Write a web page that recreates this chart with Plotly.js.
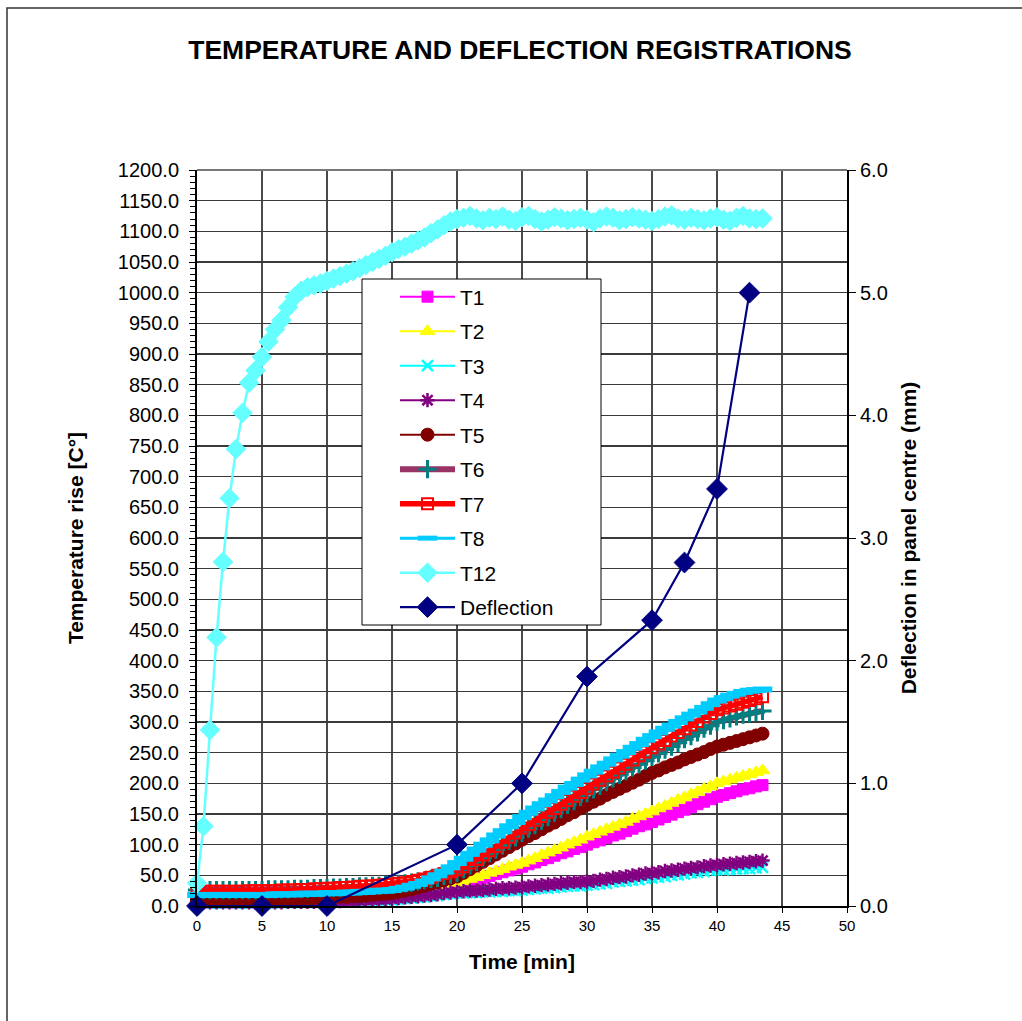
<!DOCTYPE html>
<html>
<head>
<meta charset="utf-8">
<script src="https://cdn.plot.ly/plotly-3.0.1.min.js"></script>
<style>html,body{margin:0;padding:0;background:#fff;}#chart{width:1022px;height:1021px;}</style>
</head>
<body>
<div id="chart"></div>
<script>
// time axis (min), one reading every 0.5 min
const time = [0,0.5,1,1.5,2,2.5,3,3.5,4,4.5,5,5.5,6,6.5,7,7.5,8,8.5,9,9.5,10,10.5,11,11.5,12,12.5,13,13.5,14,14.5,15,15.5,16,16.5,17,17.5,18,18.5,19,19.5,20,20.5,21,21.5,22,22.5,23,23.5,24,24.5,25,25.5,26,26.5,27,27.5,28,28.5,29,29.5,30,30.5,31,31.5,32,32.5,33,33.5,34,34.5,35,35.5,36,36.5,37,37.5,38,38.5,39,39.5,40,40.5,41,41.5,42,42.5,43,43.5];

const T1 = [6,6,6,6,6,6,6,6,6,6, 6,6,7,7,7,7,8,8,8,8, 9,9,10,10,11,11,12,12,13,13, 14,16,18,19,21,23,25,28,30,32, 34,37,40,43,46,49,52,55,58,61, 64,68,71,75,78,82,86,89,93,96, 100,104,107,111,115,118,122,126,130,133, 137,141,145,149,153,157,161,166,170,174, 178,181,184,187,190,192,195,197];
const T2 = [8,8,8,8,8,8,8,8,8,8, 8,8,8,8,9,9,9,9,10,10, 10,10,11,11,12,12,13,13,14,15, 16,17,19,21,23,25,28,30,33,35, 37,40,44,47,50,54,57,60,64,67, 70,74,78,83,87,91,95,100,104,108, 113,117,121,125,129,133,137,142,146,150, 154,159,163,168,173,177,182,186,191,195, 200,203,206,209,212,215,218,221];
const T3 = [5,5,5,5,5,5,5,5,5,5, 5,5,5,5,6,6,6,6,6,7, 7,7,7,8,8,8,9,9,9,10, 10,11,12,13,14,15,16,17,19,20, 21,21,22,22,23,23,24,24,25,25, 26,27,28,29,29,30,31,32,33,33, 34,35,36,37,39,40,41,42,43,45, 46,47,48,50,51,52,54,55,56,58, 59,59,60,60,61,61,62,63];
const T4 = [6,6,6,6,6,6,6,6,6,6, 6,6,6,6,7,7,7,7,7,8, 8,8,8,9,9,9,10,10,11,11, 12,13,14,15,16,17,18,19,21,22, 23,24,25,25,26,27,28,29,29,30, 31,32,33,34,35,36,37,38,39,39, 40,41,43,44,46,47,48,50,51,53, 54,55,57,58,59,61,62,63,65,66, 67,68,69,70,71,72,73,74];
const T5 = [10,10,10,10,10,10,10,10,10,10, 11,11,11,11,11,12,12,12,13,13, 14,14,15,15,16,16,17,18,19,20, 21,23,25,27,30,33,36,39,42,45, 48,54,60,66,72,78,84,90,96,102, 108,114,119,125,131,136,142,148,153,159, 165,170,175,181,186,191,196,201,206,212, 217,221,226,230,234,239,243,247,251,256, 260,263,266,269,272,275,278,281];
const T6 = [26,26,26,26,26,26,26,26,26,26, 26,27,27,27,27,28,28,28,29,29, 29,30,30,31,31,32,32,33,33,34, 35,36,37,38,40,42,44,46,49,51, 54,60,66,72,79,86,92,99,106,112, 119,126,132,139,145,152,158,165,171,178, 184,190,196,202,208,214,220,226,231,237, 243,249,255,260,266,272,277,283,289,294, 300,303,306,309,312,314,316,318];
const T7 = [24,24,24,24,24,24,24,24,25,25, 25,25,25,26,26,26,27,27,28,28, 29,29,30,30,31,32,32,33,34,35, 36,37,38,40,42,44,47,50,53,56, 59,64,70,76,83,90,97,104,112,119, 127,133,140,146,153,159,166,172,179,185, 192,199,205,212,218,225,231,238,245,251, 258,264,270,277,283,289,295,301,308,314, 320,323,326,329,332,335,338,341];
const T8 = [18,18,18,18,18,18,18,18,18,18, 18,18,19,19,19,19,20,20,20,20, 21,21,21,22,22,23,23,24,25,25, 26,28,30,33,36,40,45,50,56,63, 70,77,85,92,100,107,115,122,130,137, 145,152,159,166,172,179,186,193,199,206, 213,219,226,232,239,245,251,258,264,271, 277,283,289,294,300,306,312,317,323,329, 335,339,343,346,349,351,352,353];
const T12 = [37,130,287,438,561,665,745,804,853,873, 895,920,940,955,976,993,1003,1009,1012,1015, 1019,1023,1027,1031,1035,1040,1045,1050,1055,1060, 1066,1071,1075,1080,1085,1090,1097,1103,1110,1116, 1120,1122,1125,1121,1118,1122,1120,1124,1119,1117, 1123,1125,1120,1116,1119,1123,1121,1118,1120,1122, 1119,1115,1121,1124,1122,1118,1120,1123,1121,1119, 1117,1120,1124,1126,1121,1119,1122,1120,1118,1121, 1123,1119,1117,1122,1125,1121,1120,1121];

// deflection readings (right axis, mm)
const defTime = [0,5,10,20,25,30,35,37.5,40,42.5];
const deflection = [0,0,0,0.5,1.0,1.87,2.33,2.8,3.4,5.0];

const FONT = 'Arial, "Liberation Sans", sans-serif';
const legendKeys = ['legend','legend2','legend3','legend4','legend5','legend6','legend7','legend8','legend9','legend10'];

function tr(i, name, y, lineColor, lineWidth, sym, mSize, mColor, mLineW) {
  const open = sym.indexOf('open') >= 0;
  return {
    type: 'scatter', mode: 'lines+markers', name: name, legend: legendKeys[i], x: time, y: y, cliponaxis: false,
    line: {color: lineColor, width: lineWidth},
    marker: open ? {symbol: sym, size: mSize, color: mColor, line: {color: mColor, width: mLineW}}
                 : {symbol: sym, size: mSize, color: mColor, line: {color: mColor, width: 1}}
  };
}

const data = [
  tr(0, 'T1', T1, '#FF00FF', 2, 'square', 11, '#FF00FF'),
  tr(1, 'T2', T2, '#FFFF00', 2, 'triangle-up', 13, '#FFFF00'),
  tr(2, 'T3', T3, '#00FFFF', 2, 'x-thin-open', 11, '#00FFFF', 2.5),
  tr(3, 'T4', T4, '#800080', 2, 'asterisk-open', 12, '#800080', 2.5),
  tr(4, 'T5', T5, '#800000', 2, 'circle', 13, '#800000'),
  tr(5, 'T6', T6, '#993366', 6, 'cross-thin-open', 13, '#008080', 3),
  tr(6, 'T7', T7, '#FF0000', 5.5, 'square-open', 11, '#FF0000', 2),
  tr(7, 'T8', T8, '#00CCFF', 3, 'line-ew-open', 14, '#00CCFF', 6),
  tr(8, 'T12', T12, '#66FFFF', 2.5, 'diamond', 15, '#66FFFF'),
  {type: 'scatter', mode: 'lines+markers', name: 'Deflection', legend: legendKeys[9], x: defTime, y: deflection, yaxis: 'y2', cliponaxis: false,
   line: {color: '#000080', width: 2.2}, marker: {symbol: 'diamond', size: 16, color: '#000080', line: {color: '#000080', width: 1}}}
];

const L = 197, R = 847, T = 170, B = 906, W = 1022, H = 1021;
const px = v => (v - L) / (R - L);
const py = v => (B - v) / (B - T);

const layout = {
  width: W, height: H,
  margin: {l: L, r: W - R, t: T, b: H - B, pad: 0},
  paper_bgcolor: '#fff', plot_bgcolor: '#fff',
  font: {family: FONT, color: '#000'},
  showlegend: true,
  title: {text: '<b>TEMPERATURE AND DEFLECTION REGISTRATIONS</b>', font: {family: FONT, size: 26.5, color: '#000'},
          x: px(520), xref: 'paper', xanchor: 'center', y: 1 - 50 / H, yref: 'container', yanchor: 'middle'},
  xaxis: {range: [0, 50], dtick: 5, tick0: 0, showgrid: true, gridcolor: '#4a4a4a', gridwidth: 1.3,
          zeroline: false, showline: true, linecolor: '#000', linewidth: 1.5,
          ticks: 'outside', ticklen: 5, tickcolor: '#000', tickfont: {size: 15},
          title: {text: '<b>Time [min]</b>', font: {size: 21}, standoff: 22}},
  xaxis2: {overlaying: 'x', anchor: 'y', range: [0, 50], dtick: 5, tick0: 0, showgrid: false, zeroline: false,
           showline: false, ticks: 'inside', ticklen: 5, tickcolor: '#000', showticklabels: false},
  yaxis: {range: [0, 1200], dtick: 50, tick0: 0, tickformat: '.1f', showgrid: true, gridcolor: '#3a3a3a', gridwidth: 1.3,
          zeroline: false, showline: true, linecolor: '#000', linewidth: 2,
          ticks: 'outside', ticklen: 6, tickcolor: '#000', tickfont: {size: 20}, ticklabelstandoff: 6,
          minor: {dtick: 10, ticks: 'outside', ticklen: 5, tickcolor: '#000', showgrid: false},
          title: {text: '<b>Temperature rise [C°]</b>', font: {size: 21}, standoff: 28}},
  yaxis3: {overlaying: 'y', anchor: 'x', side: 'left', range: [0, 1200], dtick: 50, tick0: 0, showgrid: false,
           zeroline: false, showline: false, showticklabels: false, ticks: 'inside', ticklen: 6, tickcolor: '#000',
           minor: {dtick: 10, ticks: 'inside', ticklen: 5, tickcolor: '#000', showgrid: false}},
  yaxis2: {overlaying: 'y', side: 'right', anchor: 'x', range: [0, 6], dtick: 1, tick0: 0, tickformat: '.1f',
           showgrid: false, zeroline: false, showline: true, linecolor: '#000', linewidth: 2,
           ticks: 'outside', ticklen: 7, tickcolor: '#000', tickfont: {size: 20},
           title: {text: '<b>Deflection in panel centre (mm)</b>', font: {size: 21}, standoff: 14}},
  shapes: [
    {type: 'rect', xref: 'paper', yref: 'paper', x0: px(362), x1: px(601), y0: py(625), y1: py(279),
     line: {color: '#000', width: 1}, fillcolor: '#fff', layer: 'above'},
    {type: 'line', xref: 'paper', yref: 'paper', x0: 0, x1: 1, y0: 1, y1: 1, line: {color: '#777', width: 2}},
    {type: 'rect', xref: 'paper', yref: 'paper', x0: px(7), x1: px(1040), y0: py(1040), y1: py(8),
     line: {color: '#333', width: 1.5}, fillcolor: 'rgba(0,0,0,0)'}
  ]
};

// one single-entry legend per series, stacked in the legend box
legendKeys.forEach((k, i) => {
  layout[k] = {x: px(395), xanchor: 'left', y: py(297 + i * 34.5), yanchor: 'middle',
               bgcolor: 'rgba(0,0,0,0)', borderwidth: 0, font: {size: 21, color: '#000'}, itemwidth: 55};
});

Plotly.newPlot('chart', data, layout, {displayModeBar: false, staticPlot: true});
</script>
</body>
</html>
